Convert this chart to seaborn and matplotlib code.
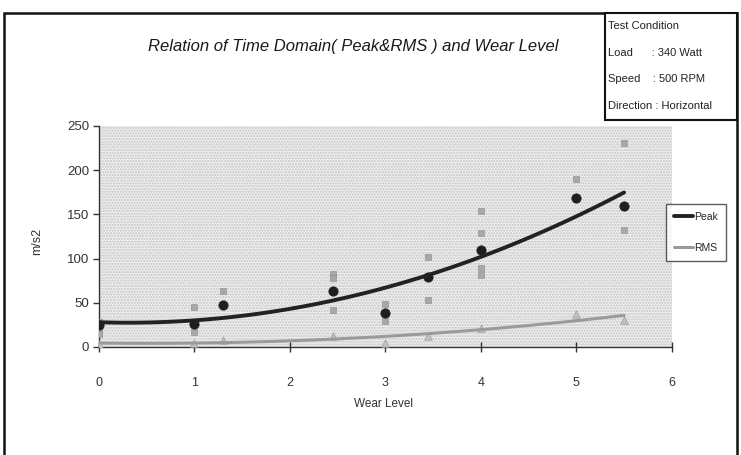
import numpy as np
import pandas as pd
import matplotlib
matplotlib.use("Agg")
import matplotlib.pyplot as plt
from matplotlib.patches import Rectangle
import seaborn as sns

sns.set_theme(style="white")
plt.rcParams["font.family"] = ["Liberation Sans", "DejaVu Sans"]

# Mean values per wear level
wear = [0, 1, 1.3, 2.45, 3, 3.45, 4, 5, 5.5]
peak = [25, 25.5, 47.6, 62.8, 38, 78.8, 110, 169, 160]
rms = [3, 5, 8, 12, 5, 12, 22, 37, 31]

# Individual peak readings
sample_wear = [0, 0, 0, 1, 1, 1.3, 2.45, 2.45, 2.45, 3, 3, 3.45, 3.45,
               4, 4, 4, 4, 5, 5.5, 5.5]
sample_peak = [28.5, 21, 15, 45.7, 17, 63.6, 82, 78, 42, 48.7, 29, 102, 53,
               154, 129, 89, 81, 190, 231, 132]

x_ticks = [0, 1, 2, 3, 4, 5, 6]
y_ticks = [0, 50, 100, 150, 200, 250]

means = pd.DataFrame({"wear": wear, "peak": peak, "rms": rms})
samples = pd.DataFrame({"wear": sample_wear, "peak": sample_peak})

fig = plt.figure(figsize=(7.41, 4.55), dpi=100)
ax = fig.add_axes([0.1336, 0.2374, 0.773, 0.4857])

# stippled plot area
ax.set_facecolor("#eeeeee")
ax.add_patch(Rectangle((0, 0), 1, 1, transform=ax.transAxes, facecolor="none",
                       edgecolor="#c4c4c4", hatch="......", linewidth=0, zorder=0))

sns.scatterplot(data=samples, x="wear", y="peak", ax=ax, marker="s", s=14,
                color="#a8a8a8", edgecolor="#8a8a8a", linewidth=0.4, zorder=3,
                legend=False)
sns.scatterplot(data=means, x="wear", y="rms", ax=ax, marker="^", s=30,
                color="#c0c0c0", edgecolor="#a0a0a0", linewidth=0.5, zorder=3,
                legend=False)
sns.scatterplot(data=means, x="wear", y="peak", ax=ax, marker="o", s=45,
                color="#1e1e1e", edgecolor="#1e1e1e", zorder=4, legend=False)

sns.regplot(data=means, x="wear", y="peak", order=2, ci=None, scatter=False,
            ax=ax, line_kws=dict(color="#222222", linewidth=2.8, zorder=5),
            label="Peak")
sns.regplot(data=means, x="wear", y="rms", order=2, ci=None, scatter=False,
            ax=ax, line_kws=dict(color="#9a9a9a", linewidth=2.2, zorder=5),
            label="RMS")

ax.set_xlim(0, 6)
ax.set_ylim(0, 250)
ax.set_xticks(x_ticks)
ax.set_yticks(y_ticks)
ax.set_xlabel("")
ax.set_ylabel("")
for s in ["top", "right"]:
    ax.spines[s].set_visible(False)
for s in ["left", "bottom"]:
    ax.spines[s].set_color("#333333")
    ax.spines[s].set_linewidth(1.0)
ax.tick_params(axis="x", direction="inout", length=7, width=1, color="#333333",
               pad=18, labelsize=9, labelcolor="#333333", bottom=True)
ax.tick_params(axis="y", direction="out", length=4, width=1, color="#333333",
               pad=3, labelsize=9.5, labelcolor="#333333", left=True)

leg = ax.legend(loc="upper left", bbox_to_anchor=(0.99, 0.648), frameon=True,
                fontsize=7.5, handlelength=1.8, handletextpad=0.1,
                borderpad=0.8, labelspacing=2.0, fancybox=False,
                borderaxespad=0)
leg.get_frame().set_edgecolor("#333333")
leg.get_frame().set_linewidth(1.0)
leg.set_zorder(10)

fig.text(0.477, 0.897, "Relation of Time Domain( Peak&RMS ) and Wear Level",
         ha="center", va="center", fontsize=12, style="italic", color="#1a1a1a")
fig.text(0.517, 0.113, "Wear Level", ha="center", va="center", fontsize=8.5,
         color="#333333")
fig.text(0.05, 0.47, "m/s2", ha="center", va="center", rotation=90,
         fontsize=9, color="#333333")

# outer frame
fig.patches.append(Rectangle((4 / 741, -0.01), 733 / 741, 1 - 13 / 455 + 0.01,
                             transform=fig.transFigure, fill=False,
                             edgecolor="#111111", linewidth=1.8))
# test condition box
fig.patches.append(Rectangle((605 / 741, 1 - 120 / 455), 132 / 741, 107 / 455,
                             transform=fig.transFigure, fill=True,
                             facecolor="white", edgecolor="#111111", linewidth=1.5))
cond = ["Test Condition", "Load      : 340 Watt", "Speed    : 500 RPM",
        "Direction : Horizontal"]
for i, line in enumerate(cond):
    fig.text(608 / 741, 1 - (26 + 26.7 * i) / 455, line, ha="left", va="center",
             fontsize=8, color="#222222")

fig.savefig("out.png", dpi=100)
